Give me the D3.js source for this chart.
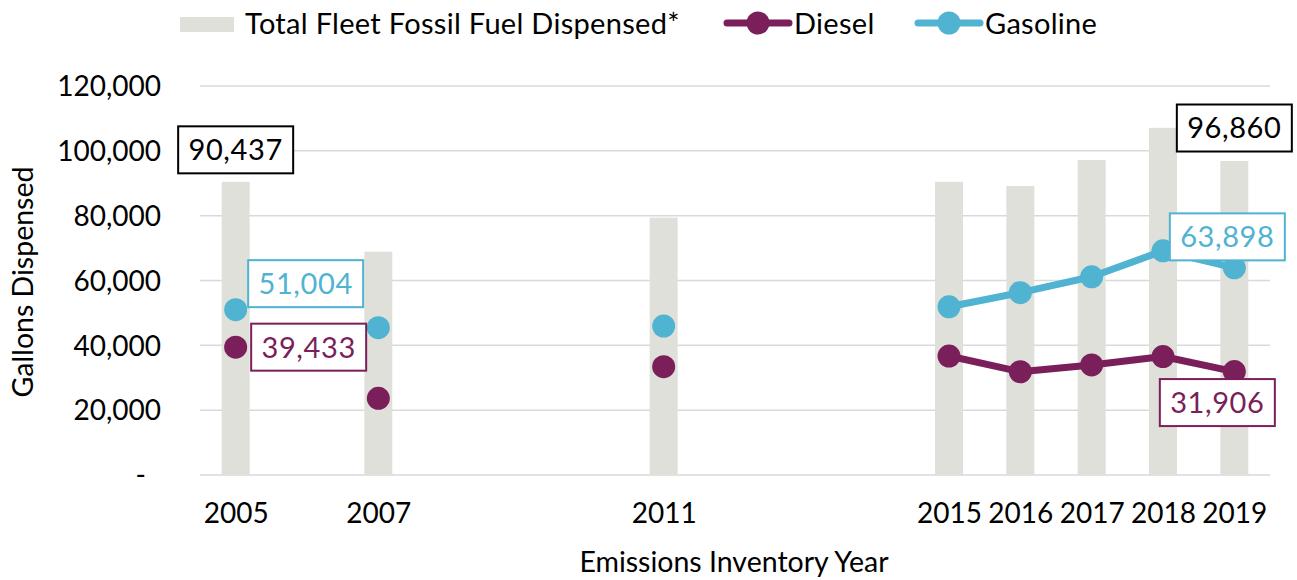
<!DOCTYPE html>
<html>
<head>
<meta charset="utf-8">
<script src="https://cdn.jsdelivr.net/npm/d3@7"></script>
<style>
  body { margin: 0; background: #fff; }
  svg { display: block; font-family: Lato, "Open Sans", sans-serif; }
</style>
</head>
<body>
<svg id="chart" width="1297" height="580"></svg>
<script>
// Data
var years = [2005, 2007, 2011, 2015, 2016, 2017, 2018, 2019];
var totalFleet = [90437, 68900, 79400, 90450, 89150, 97150, 107100, 96860];
var diesel = [39433, 23650, 33400, 36700, 31850, 33950, 36550, 31906];
var gasoline = [51004, 45450, 45950, 51900, 56250, 61150, 69150, 63898];
var yTicks = [0, 20000, 40000, 60000, 80000, 100000, 120000];

var svg = d3.select('#chart');
var purple = '#7a1f5a', blue = '#4fb3d1', barFill = '#e0e0db';

var x = d3.scaleLinear().domain([2004.5, 2019.5]).range([200, 1270]);
var y = d3.scaleLinear().domain([0, 120000]).range([475, 86]);
var fmt = d3.format(',');

// Gridlines
svg.append('g').selectAll('line')
    .data(yTicks)
    .enter().append('line')
    .attr('x1', x.range()[0]).attr('x2', x.range()[1])
    .attr('y1', (d) => y(d)).attr('y2', (d) => y(d))
    .attr('stroke', '#d9d9d9').attr('stroke-width', 1.5);

// Y axis labels
var yAxis = svg.append('g')
    .attr('transform', 'translate(161,0)')
    .call(d3.axisLeft(y).tickValues(yTicks).tickSize(0).tickPadding(0)
        .tickFormat((d) => d === 0 ? '-' : fmt(d)));
yAxis.select('.domain').remove();
yAxis.selectAll('text')
    .attr('font-family', 'Lato, sans-serif').attr('font-size', 28).attr('fill', '#000')
    .attr('dy', '0.35em');
yAxis.selectAll('.tick').filter((d) => d === 0).select('text').attr('dx', -15);

// X axis labels
var xAxis = svg.append('g')
    .attr('transform', 'translate(0,503)')
    .call(d3.axisBottom(x).tickValues(years).tickSize(0).tickPadding(0).tickFormat(d3.format('d')));
xAxis.select('.domain').remove();
xAxis.selectAll('text')
    .attr('font-family', 'Lato, sans-serif').attr('font-size', 28).attr('fill', '#000')
    .attr('dy', '0.71em');

// Axis titles
svg.append('text')
    .attr('transform', 'translate(33,282) rotate(-90)')
    .attr('text-anchor', 'middle').attr('font-size', 28.5).attr('fill', '#000')
    .text('Gallons Dispensed');
svg.append('text')
    .attr('x', 734).attr('y', 572)
    .attr('text-anchor', 'middle').attr('font-size', 28.5).attr('fill', '#000')
    .text('Emissions Inventory Year');

// Bars
var barW = 28;
svg.append('g').selectAll('rect')
    .data(years)
    .enter().append('rect')
    .attr('x', (d) => x(d) - barW / 2)
    .attr('width', barW)
    .attr('y', (d, i) => y(totalFleet[i]))
    .attr('height', (d, i) => y(0) - y(totalFleet[i]))
    .attr('fill', barFill);

// Lines + markers (lines only join consecutive years)
function drawSeries(values, color) {
    var pts = years.map((yr, i) => ({yr: yr, v: values[i]}));
    var segs = [];
    for (var i = 1; i < pts.length; i++)
        if (pts[i].yr - pts[i - 1].yr === 1) segs.push([pts[i - 1], pts[i]]);
    var line = d3.line().x((d) => x(d.yr)).y((d) => y(d.v));
    var g = svg.append('g');
    g.selectAll('path')
        .data(segs)
        .enter().append('path')
        .attr('d', line)
        .attr('fill', 'none').attr('stroke', color).attr('stroke-width', 7)
        .attr('stroke-linecap', 'round');
    g.selectAll('circle')
        .data(pts)
        .enter().append('circle')
        .attr('cx', (d) => x(d.yr)).attr('cy', (d) => y(d.v))
        .attr('r', 11.5).attr('fill', color);
}
drawSeries(gasoline, blue);
drawSeries(diesel, purple);

// Data label boxes
function label(value, year, yv, dx, dy, color) {
    var cx = x(year) + dx, cy = y(yv) + dy;
    var w = 115, h = 47;
    svg.append('rect')
        .attr('x', cx - w / 2).attr('y', cy - h / 2)
        .attr('width', w).attr('height', h)
        .attr('fill', '#fff').attr('stroke', color).attr('stroke-width', 2);
    svg.append('text')
        .attr('x', cx).attr('y', cy).attr('dy', '0.36em')
        .attr('text-anchor', 'middle').attr('font-size', 29).attr('letter-spacing', 0.6)
        .attr('fill', color)
        .text(fmt(value));
}
label(totalFleet[0], years[0], totalFleet[0], 0, -32, '#000');
label(totalFleet[7], years[7], totalFleet[7], 0, -33, '#000');
label(gasoline[0], years[0], gasoline[0], 70, -26, blue);
label(diesel[0], years[0], diesel[0], 73, 0, purple);
label(gasoline[7], years[7], gasoline[7], -7, -31, blue);
label(diesel[7], years[7], diesel[7], -17, 31, purple);

// Legend
var lg = svg.append('g');
lg.append('rect').attr('x', 180).attr('y', 17).attr('width', 54).attr('height', 15).attr('fill', barFill);
lg.append('text').attr('x', 245).attr('y', 24).attr('dy', '0.36em').attr('font-size', 29)
    .attr('letter-spacing', 0.3).attr('fill', '#000')
    .text('Total Fleet Fossil Fuel Dispensed*');
[[727, purple, 'Diesel'], [918, blue, 'Gasoline']].forEach((e) => {
    lg.append('line').attr('x1', e[0]).attr('x2', e[0] + 62).attr('y1', 23).attr('y2', 23)
        .attr('stroke', e[1]).attr('stroke-width', 7).attr('stroke-linecap', 'round');
    lg.append('circle').attr('cx', e[0] + 31).attr('cy', 23).attr('r', 11.5).attr('fill', e[1]);
    lg.append('text').attr('x', e[0] + 67).attr('y', 24).attr('dy', '0.36em').attr('font-size', 29)
        .attr('letter-spacing', 0.3).attr('fill', '#000')
        .text(e[2]);
});
</script>
</body>
</html>
